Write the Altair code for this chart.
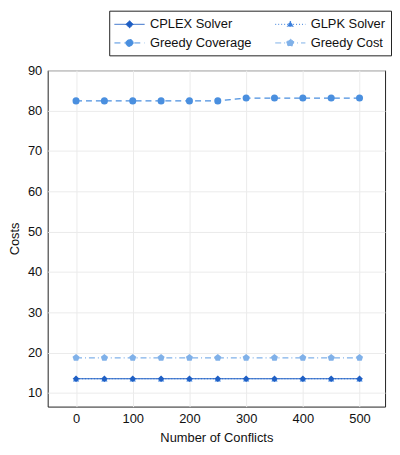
import altair as alt
import pandas as pd

x_vals = [0, 50, 100, 150, 200, 250, 300, 350, 400, 450, 500]
cplex = [13.5] * 11
glpk = [13.5] * 11
greedy_coverage = [82.4, 82.4, 82.4, 82.4, 82.4, 82.4, 83.1, 83.1, 83.1, 83.1, 83.1]
greedy_cost = [18.7] * 11

series_names = ["CPLEX Solver", "GLPK Solver", "Greedy Coverage", "Greedy Cost"]
colors = ["#1f5fc4", "#3a7fdc", "#4a8fdf", "#80b1e9"]
dashes = [[1, 0], [1, 2], [6, 4], [6, 3, 1, 3]]
marker_shapes = [
    "diamond",
    "triangle-up",
    "circle",
    "M0,-1L0.95,-0.31L0.59,0.81L-0.59,0.81L-0.95,-0.31Z",
]
marker_sizes = [45, 40, 50, 55]
legend_paths = [
    "M-1.9,0L1.9,0M0,-0.45L0.45,0L0,0.45L-0.45,0Z",
    "M-1.9,0L1.9,0M0,-0.42L0.38,0.26L-0.38,0.26Z",
    "M-1.9,0L1.9,0M-0.45,0A0.45,0.45 0 1,0 0.45,0A0.45,0.45 0 1,0 -0.45,0Z",
    "M-1.9,0L1.9,0M0,-0.47L0.45,-0.15L0.28,0.38L-0.28,0.38L-0.45,-0.15Z",
]

values_by_series = {
    "CPLEX Solver": cplex,
    "GLPK Solver": glpk,
    "Greedy Coverage": greedy_coverage,
    "Greedy Cost": greedy_cost,
}
draw_order = ["GLPK Solver", "CPLEX Solver", "Greedy Coverage", "Greedy Cost"]
rows = []
for s in draw_order:
    for xv, yv in zip(x_vals, values_by_series[s]):
        rows.append({"conflicts": xv, "cost": yv, "series": s})
df = pd.DataFrame(rows)


def sel_expr(options):
    parts = []
    for name, opt in zip(series_names[:-1], options[:-1]):
        parts.append(f"datum.value === '{name}' ? {opt} : ")
    return "".join(parts) + f"{options[-1]}"


type_expr = sel_expr([f"'{p}'" for p in legend_paths])
dash_expr = sel_expr([str(d) for d in dashes])
fill_expr = "scale('color', datum.value)"

FONT = "Liberation Sans"

x_enc = alt.X(
    "conflicts:Q",
    scale=alt.Scale(domain=[-50, 545], nice=False, zero=False),
    axis=alt.Axis(values=[0, 100, 200, 300, 400, 500], title="Number of Conflicts"),
)
y_enc = alt.Y(
    "cost:Q",
    scale=alt.Scale(domain=[6.6, 90], nice=False, zero=False),
    axis=alt.Axis(values=[10, 20, 30, 40, 50, 60, 70, 80, 90], title="Costs"),
)
color_enc = alt.Color(
    "series:N",
    scale=alt.Scale(domain=series_names, range=colors),
    legend=alt.Legend(
        title=None,
        orient="none",
        direction="horizontal",
        legendX=62,
        legendY=-60,
        columns=2,
        columnPadding=21,
        rowPadding=3,
        padding=5,
        strokeColor="#222222",
        fillColor="white",
        labelFont=FONT,
        labelFontSize=13,
        labelColor="#111111",
        labelOffset=12,
        symbolSize=256,
        symbolOffset=7,
        symbolStrokeWidth=1,
        symbolType={"expr": type_expr},
        symbolDash={"expr": dash_expr},
        symbolFillColor={"expr": fill_expr},
        symbolOpacity=1,
    ),
)

lines = alt.Chart(df).mark_line(strokeWidth=1.2).encode(
    x=x_enc,
    y=y_enc,
    color=color_enc,
    strokeDash=alt.StrokeDash(
        "series:N", scale=alt.Scale(domain=series_names, range=dashes), legend=None
    ),
    detail="series:N",
)

point_layers = []
for s in draw_order:
    i = series_names.index(s)
    point_layers.append(
        alt.Chart(df)
        .transform_filter(alt.datum.series == s)
        .mark_point(filled=True, opacity=1, size=marker_sizes[i], shape=marker_shapes[i], color=colors[i])
        .encode(x=x_enc, y=y_enc)
    )

chart = (
    alt.layer(lines, *point_layers)
    .properties(width=340, height=339, padding={"left": 0, "top": 0, "right": 0, "bottom": 0})
    .configure_view(stroke="#222222", strokeWidth=1)
    .configure_axis(
        domain=False,
        ticks=False,
        grid=True,
        gridColor="#ebebeb",
        gridWidth=1,
        labelFont=FONT,
        labelFontSize=13,
        labelColor="#111111",
        labelPadding=6,
        titleFont=FONT,
        titleFontSize=13,
        titleFontWeight="normal",
        titleColor="#111111",
        titlePadding=6,
    )
)

chart.save("out.html", embed_options={"renderer": "svg", "actions": False})
